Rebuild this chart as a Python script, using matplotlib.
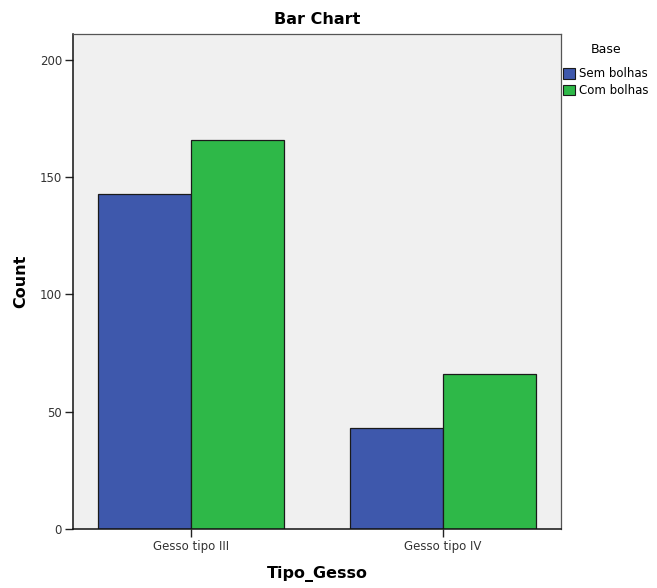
import matplotlib
matplotlib.use("Agg")
import matplotlib.pyplot as plt
from matplotlib.patches import Patch
import numpy as np

categories = ["Gesso tipo III", "Gesso tipo IV"]
series_names = ["Sem bolhas", "Com bolhas"]
sem_bolhas = [143, 43]
com_bolhas = [166, 66]
colors = ["#3e58ac", "#2eb848"]
yticks = [0, 50, 100, 150, 200]

plt.rcParams['font.family'] = ['DejaVu Sans']

fig = plt.figure(figsize=(6.57, 5.88), dpi=100)
ax = fig.add_axes([73/657, 1-529/588, (561-73)/657, (529-34)/588])
ax.set_facecolor("#f0f0f0")

x = np.arange(len(categories))
w = 0.369
ax.bar(x - w/2, sem_bolhas, w, color=colors[0], edgecolor="#1a1a1a", linewidth=0.9, label=series_names[0])
ax.bar(x + w/2, com_bolhas, w, color=colors[1], edgecolor="#1a1a1a", linewidth=0.9, label=series_names[1])

ax.set_xlim(-0.468, 1.468)
ax.set_ylim(0, 211)
ax.set_xticks(x)
ax.set_xticklabels(categories, fontsize=8.5, color="#333333")
ax.set_yticks(yticks)
ax.set_yticklabels([str(v) for v in yticks], fontsize=8.5, color="#333333")
ax.tick_params(axis='both', direction='out', length=6, width=1, color="#222222", pad=2)

for s in ["top", "right"]:
    ax.spines[s].set_color("#555555")
    ax.spines[s].set_linewidth(0.9)
for s in ["left", "bottom"]:
    ax.spines[s].set_color("#111111")
    ax.spines[s].set_linewidth(1.1)

ax.set_title("Bar Chart", fontsize=11.5, fontweight="bold", pad=7)
ax.set_ylabel("Count", fontsize=11.5, fontweight="bold", labelpad=8)
ax.set_xlabel("Tipo_Gesso", fontsize=11.5, fontweight="bold", labelpad=9.5)

handles = [Patch(facecolor=colors[0], edgecolor="#1a1a1a", linewidth=0.8),
           Patch(facecolor=colors[1], edgecolor="#1a1a1a", linewidth=0.8)]
leg = fig.legend(handles, series_names, title="Base", loc="upper left",
                 bbox_to_anchor=(561/657, 1-41/588), frameon=False, fontsize=8.5,
                 title_fontsize=9, handlelength=1.0, handleheight=1.0,
                 handletextpad=0.3, labelspacing=0.3, borderaxespad=0, borderpad=0.2)
leg._legend_box.sep = 8

fig.savefig("out.png", dpi=100)
